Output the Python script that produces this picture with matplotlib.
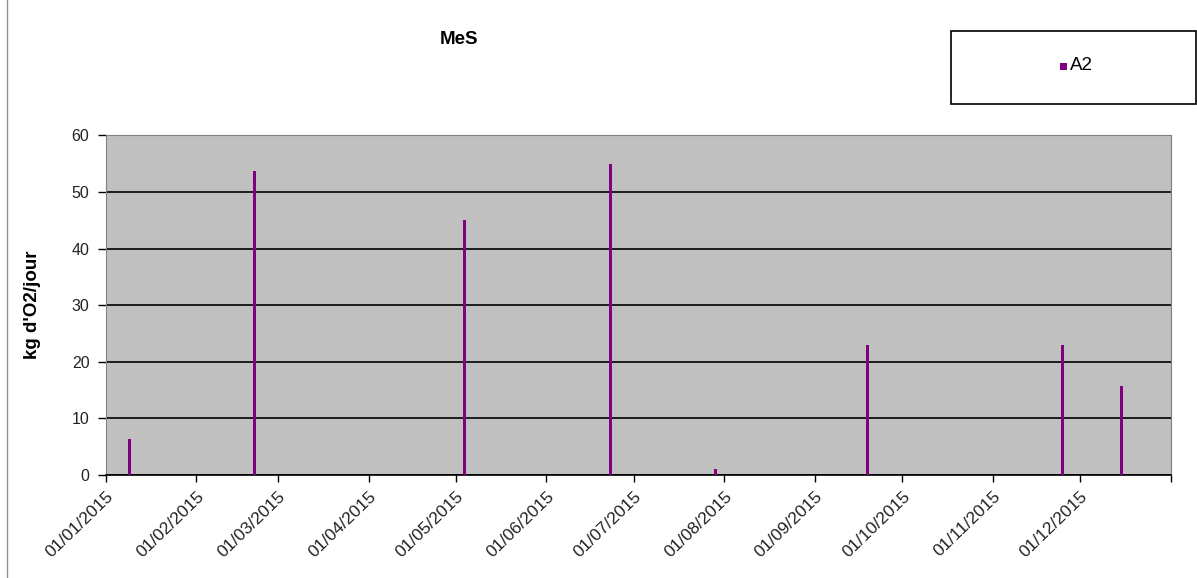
import numpy as np
import matplotlib.pyplot as plt
import datetime as dt
from matplotlib.patches import Rectangle
from matplotlib.lines import Line2D

plt.rcParams['font.family'] = ['Liberation Sans', 'DejaVu Sans']

# data
dates = ["2015-01-09", "2015-02-21", "2015-05-04", "2015-06-23",
         "2015-07-29", "2015-09-19", "2015-11-25", "2015-12-15"]
values = [6.3, 53.7, 45.0, 55.0, 1.0, 22.9, 22.9, 15.7]
tick_labels = ["01/%02d/2015" % m for m in range(1, 13)]
series_name = "A2"

x = [dt.datetime.strptime(d, "%Y-%m-%d") for d in dates]
ticks = [dt.datetime(2015, m, 1) for m in range(1, 13)]

fig = plt.figure(figsize=(11.97, 5.78), dpi=100)
ax = fig.add_axes([0.0886, 0.178, 0.8894, 0.588])
ax.set_facecolor('#c0c0c0')

ax.bar(x, values, width=1.0, color='#800080', linewidth=0, zorder=3)

ax.set_xlim(dt.datetime(2015, 1, 1), dt.datetime(2016, 1, 1))
ax.set_ylim(0, 60)
ax.set_yticks(np.arange(0, 61, 10))
ax.set_yticklabels([str(v) for v in range(0, 61, 10)], fontsize=11.5, color='#222222')
ax.grid(axis='y', color='black', linewidth=1.2, zorder=1)

ax.set_xticks(ticks + [dt.datetime(2016, 1, 1)])
ax.set_xticklabels(tick_labels + [""], rotation=44, ha='right', va='top',
                   rotation_mode='anchor', fontsize=12.5, color='#222222')
ax.tick_params(axis='x', direction='out', length=5, width=1, color='black', pad=5)
ax.tick_params(axis='y', direction='out', length=6, width=1, color='black', pad=6)

for s in ['top', 'right']:
    ax.spines[s].set_color('#808080')
ax.spines['left'].set_color('#808080')
ax.spines['bottom'].set_color('black')
ax.spines['bottom'].set_linewidth(1.2)

ax.set_ylabel("kg d'O2/jour", fontsize=13.5, fontweight='bold', labelpad=22)
fig.text(459 / 1197, 1 - 40 / 578, "MeS", fontsize=13.5, fontweight='bold',
         ha='center', va='center')

# legend box
fig.patches.append(Rectangle((951 / 1197, 1 - 104 / 578), 245 / 1197, 73 / 578,
                             transform=fig.transFigure, facecolor='white',
                             edgecolor='black', linewidth=1.2))
fig.patches.append(Rectangle((1060 / 1197, 1 - 70 / 578), 7 / 1197, 7 / 578,
                             transform=fig.transFigure, facecolor='#800080',
                             edgecolor='none'))
fig.text(1070 / 1197, 1 - 65 / 578, series_name, fontsize=13.5, ha='left', va='center')

# left frame line
fig.lines.append(Line2D([7 / 1197, 7 / 1197], [0, 1], transform=fig.transFigure,
                        color='#909090', linewidth=1))

fig.savefig("out.png", dpi=100)
